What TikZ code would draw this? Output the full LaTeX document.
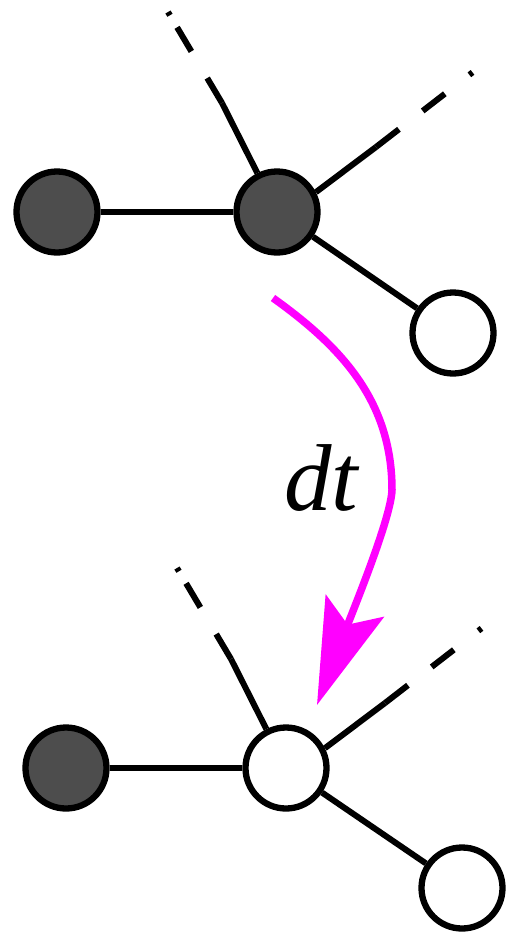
\documentclass[tikz,border=0pt]{standalone}
\usepackage{fontspec}
\setmainfont{Liberation Serif}
\usetikzlibrary{arrows.meta}
\definecolor{atomfill}{HTML}{4D4D4D}
\definecolor{hop}{HTML}{FF00FF}

\begin{document}
\begin{tikzpicture}[x=1pt,y=-1pt,
      atom/.style={circle,draw=black,line width=6.3pt,minimum size=81pt,inner sep=0pt},
      occupied/.style={atom,fill=atomfill},
      empty/.style={atom,fill=white},
      bond/.style={line width=6pt,draw=black},
      tailL/.style={bond,dash pattern=on 29pt off 31pt on 28pt off 14pt on 4pt},
      tailR/.style={bond,dash pattern=on 29pt off 30pt on 28pt off 31pt on 4pt},
      jump/.style={line width=7.5pt,draw=hop,-{Stealth[length=106pt,width=62pt,inset=20pt]}}]
    \useasboundingbox (0,0) rectangle (508,937);
    % before the hop
    \node[occupied] (l1) at (57,212) {};
    \node[occupied] (c1) at (277,212) {};
    \node[empty] (r1) at (453,333) {};
    \coordinate (k1) at (222,103);
    \coordinate (e1) at (168,12);
    \coordinate (k2) at (376,147);
    \coordinate (e2) at (473,72);
    \draw[bond] (l1) -- (c1);
    \draw[bond] (c1) -- (r1);
    \draw[bond] (c1) -- (k1);
    \draw[tailL] (k1) -- (e1);
    \draw[bond] (c1.27) -- (k2);
    \draw[tailR] (k2) -- (e2);
    % after the hop
    \node[occupied] (l2) at (66,768) {};
    \node[empty] (c2) at (286,768) {};
    \node[empty] (r2) at (462,888) {};
    \coordinate (k3) at (231,659);
    \coordinate (e3) at (177,568);
    \coordinate (k4) at (385,703);
    \coordinate (e4) at (482,628);
    \draw[bond] (l2) -- (c2);
    \draw[bond] (c2) -- (r2);
    \draw[bond] (c2) -- (k3);
    \draw[tailL] (k3) -- (e3);
    \draw[bond] (c2.27) -- (k4);
    \draw[tailR] (k4) -- (e4);
    % hop
    \coordinate (from) at (273,298);
    \coordinate (mid) at (392,490);
    \coordinate (to) at (317,705);
    \draw[jump] (from) .. controls (340,346) and (392,400) .. (mid)
                       .. controls (391,518) and (354,608) .. (to);
    \node[anchor=base,inner sep=0pt,font=\fontsize{95}{100}\selectfont\itshape] (dt) at (321,510) {dt};
\end{tikzpicture}
\end{document}
